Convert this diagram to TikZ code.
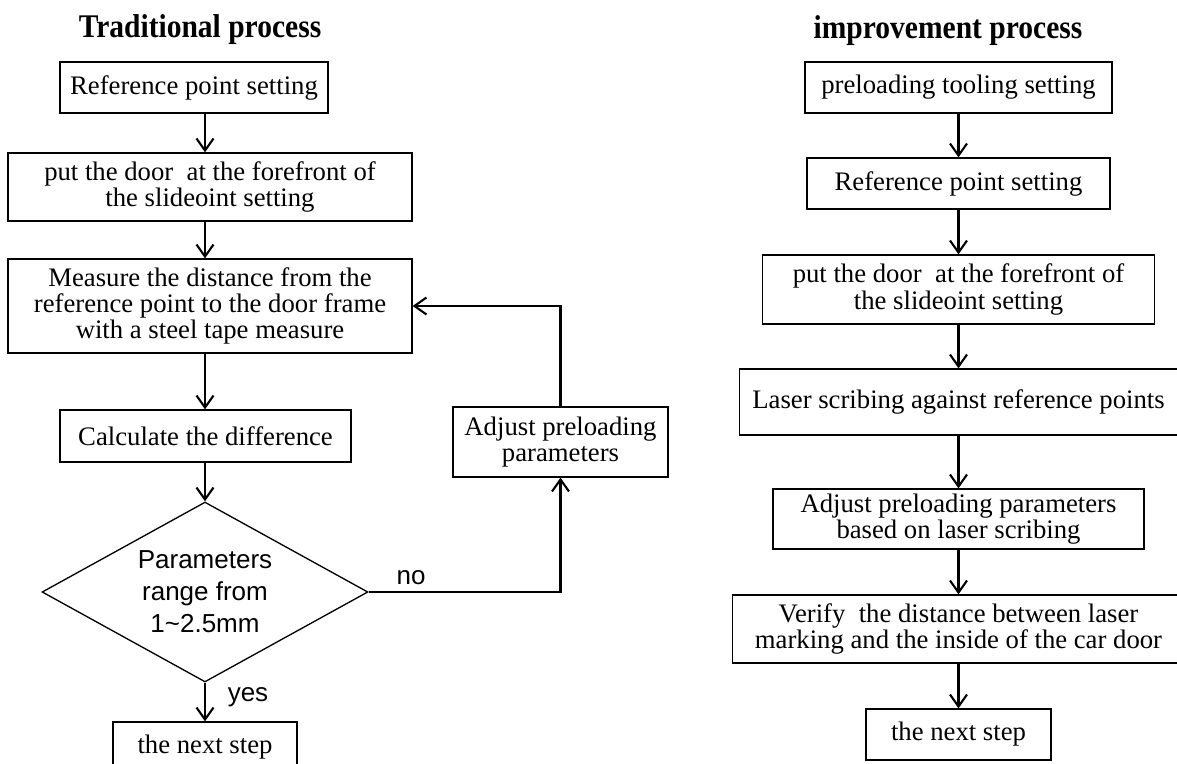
\documentclass[tikz,border=0pt]{standalone}
\usepackage{fontspec}
\setmainfont{Liberation Serif}
\newfontfamily\arialfont{Liberation Sans}
\usetikzlibrary{arrows.meta,shapes.geometric}

\begin{document}
\begin{tikzpicture}[x=0.02cm, y=-0.02cm]
\tikzset{box/.style = {draw, line width=0.75pt, align=center, inner sep=0pt, font=\fontsize{15.2}{15}\selectfont}}
\tikzset{test/.style = {shape=diamond, draw, line width=0.75pt, align=center, inner sep=0pt, aspect=2,
    minimum width=6.52cm, minimum height=3.6cm, font=\arialfont\fontsize{14.8}{18.2}\selectfont}}
\tikzset{flow/.style = {line width=1.2pt, -{Straight Barb[length=2.4mm, width=3.4mm, line width=1.2pt]}}}
\tikzset{tag/.style = {inner sep=0pt, font=\arialfont\fontsize{14.8}{18}\selectfont}}
\tikzset{title/.style = {inner sep=0pt, font=\bfseries\fontsize{16.8}{18}\selectfont}}
\useasboundingbox (0,0) rectangle (1177,764);

% titles
\node[title] (oldtitle) at (200,30) {\scalebox{1}[1.12]{Traditional process}};
\node[title] (newtitle) at (948,31) {\scalebox{1}[1.12]{improvement process}};

% traditional process
\coordinate (spine) at (205,0);
\node[box, minimum width=5.36cm, minimum height=1.02cm] (oldref) at (194,87.5) {Reference point setting};
\node[box, minimum width=8.08cm, minimum height=1.36cm] (olddoor) at (210,187) {put the door\ \ at the forefront of\\the slideoint setting};
\node[box, minimum width=8.08cm, minimum height=1.88cm] (measure) at (210,306) {Measure the distance from the\\reference point to the door frame\\with a steel tape measure};
\node[box, minimum width=5.82cm, minimum height=1.04cm] (calc) at (205.5,436) {Calculate the difference};
\node[test] (check) at (205,592) {Parameters\\range from\\1\textasciitilde 2.5mm};
\node[box, minimum width=4.3cm, minimum height=1.4cm] (adjust) at (560.5,442) {Adjust preloading\\parameters};
\node[box, minimum width=3.68cm, minimum height=1.02cm] (oldnext) at (205,747.5) {the next step};
\node[tag] (no) at (411,578) {no};
\node[tag] (yes) at (248,697) {yes};

\draw[flow] (oldref.south -| spine) -- (olddoor.north -| spine);
\draw[flow] (olddoor.south -| spine) -- (measure.north -| spine);
\draw[flow] (measure.south -| spine) -- (calc.north -| spine);
\draw[flow] (calc.south -| spine) -- (check.north);
\draw[flow] (check.east) -| (adjust.south);
\draw[flow] (adjust.north) |- (measure.east);
\draw[flow] (check.south) -- (oldnext.north);

% improvement process
\node[box, minimum width=6.14cm, minimum height=1.02cm] (tooling) at (958.5,87.5) {preloading tooling setting};
\node[box, minimum width=6.06cm, minimum height=1.02cm] (newref) at (958.5,183.5) {Reference point setting};
\node[box, minimum width=7.84cm, minimum height=1.38cm] (newdoor) at (958.5,289.5) {put the door\ \ at the forefront of\\the slideoint setting};
\node[box, minimum width=8.76cm, minimum height=1.32cm] (scribe) at (958.5,402) {Laser scribing against reference points};
\node[box, minimum width=7.42cm, minimum height=1.2cm] (preload) at (958.5,519) {Adjust preloading parameters\\based on laser scribing};
\node[box, minimum width=9.04cm, minimum height=1.36cm] (verify) at (958.5,629) {Verify\ \ the distance between laser\\marking and the inside of the car door};
\node[box, minimum width=3.7cm, minimum height=1.02cm] (newnext) at (958.5,734.5) {the next step};

\draw[flow] (tooling) -- (newref);
\draw[flow] (newref) -- (newdoor);
\draw[flow] (newdoor) -- (scribe);
\draw[flow] (scribe) -- (preload);
\draw[flow] (preload) -- (verify);
\draw[flow] (verify) -- (newnext);

\end{tikzpicture}
\end{document}
